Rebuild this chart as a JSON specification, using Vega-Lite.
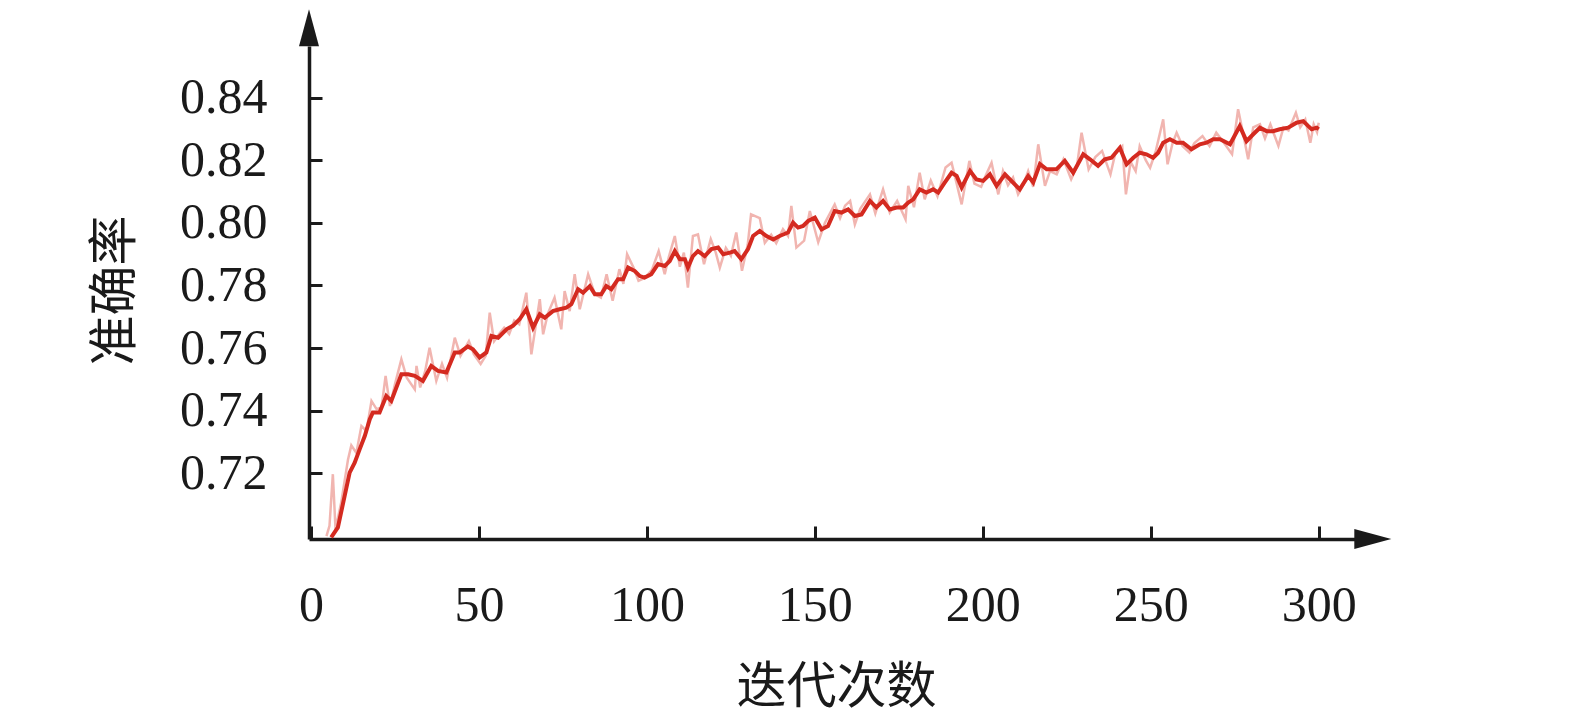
{
  "$schema": "https://vega.github.io/schema/vega-lite/v6.json",
  "width": 1046,
  "height": 493,
  "autosize": {"type": "none"},
  "padding": {"left": 309, "top": 46, "right": 220, "bottom": 175},
  "background": "white",
  "config": {
    "view": {"stroke": null},
    "axis": {
      "grid": false,
      "domainColor": "#1a1a1a",
      "domainWidth": 3.5,
      "tickColor": "#1a1a1a",
      "tickWidth": 3,
      "labelFont": "Liberation Serif",
      "labelFontSize": 50,
      "labelColor": "#1a1a1a",
      "labelFlush": false,
      "labelOverlap": false,
      "titleFont": "Noto Sans CJK SC",
      "titleFontSize": 50,
      "titleFontWeight": "normal",
      "titleColor": "#1a1a1a"
    }
  },
  "datasets": {
    "raw": [
      {"x": 4.6, "acc": 0.6999}, {"x": 5.5, "acc": 0.7032}, {"x": 6.5, "acc": 0.7197}, {"x": 7.3, "acc": 0.7021},
      {"x": 9, "acc": 0.7107}, {"x": 11, "acc": 0.7243}, {"x": 12, "acc": 0.7289}, {"x": 13.5, "acc": 0.7265},
      {"x": 15, "acc": 0.7351}, {"x": 16.5, "acc": 0.7335}, {"x": 18, "acc": 0.7431}, {"x": 19.5, "acc": 0.7405},
      {"x": 21, "acc": 0.741}, {"x": 22.2, "acc": 0.7511}, {"x": 23.5, "acc": 0.7415}, {"x": 25, "acc": 0.7485},
      {"x": 26.9, "acc": 0.7564}, {"x": 28.5, "acc": 0.7505}, {"x": 30.9, "acc": 0.7468}, {"x": 31.4, "acc": 0.7543},
      {"x": 32.5, "acc": 0.7474}, {"x": 34, "acc": 0.7527}, {"x": 35.3, "acc": 0.7601}, {"x": 37.3, "acc": 0.7495},
      {"x": 39, "acc": 0.755}, {"x": 40.5, "acc": 0.7505}, {"x": 42.8, "acc": 0.7633}, {"x": 44.5, "acc": 0.7575},
      {"x": 47, "acc": 0.7622}, {"x": 48.5, "acc": 0.758}, {"x": 50.5, "acc": 0.7549}, {"x": 52, "acc": 0.7575},
      {"x": 53.2, "acc": 0.7713}, {"x": 54.5, "acc": 0.7622}, {"x": 56, "acc": 0.7645}, {"x": 57.5, "acc": 0.7665},
      {"x": 59, "acc": 0.7645}, {"x": 60.5, "acc": 0.7688}, {"x": 62, "acc": 0.7676}, {"x": 64.1, "acc": 0.7777},
      {"x": 65.6, "acc": 0.758}, {"x": 68.1, "acc": 0.7756}, {"x": 69.1, "acc": 0.7644}, {"x": 70.5, "acc": 0.771},
      {"x": 72.5, "acc": 0.7761}, {"x": 74.5, "acc": 0.766}, {"x": 75.5, "acc": 0.7782}, {"x": 77, "acc": 0.7718},
      {"x": 78.5, "acc": 0.7836}, {"x": 80, "acc": 0.7724}, {"x": 82.5, "acc": 0.7836}, {"x": 84.5, "acc": 0.7772},
      {"x": 86.3, "acc": 0.7761}, {"x": 88, "acc": 0.7836}, {"x": 89.8, "acc": 0.7751}, {"x": 91.8, "acc": 0.7852},
      {"x": 93, "acc": 0.7805}, {"x": 94.1, "acc": 0.79}, {"x": 96, "acc": 0.7857}, {"x": 97.5, "acc": 0.7815},
      {"x": 99.5, "acc": 0.7825}, {"x": 101.5, "acc": 0.785}, {"x": 103.5, "acc": 0.791}, {"x": 105.3, "acc": 0.7836},
      {"x": 106.5, "acc": 0.789}, {"x": 108.3, "acc": 0.7958}, {"x": 109.8, "acc": 0.786}, {"x": 111, "acc": 0.7905},
      {"x": 112.2, "acc": 0.7793}, {"x": 113.7, "acc": 0.7958}, {"x": 115.2, "acc": 0.7963}, {"x": 117, "acc": 0.7868},
      {"x": 119, "acc": 0.7948}, {"x": 120.5, "acc": 0.7905}, {"x": 121.7, "acc": 0.7857}, {"x": 123.5, "acc": 0.792},
      {"x": 125, "acc": 0.7895}, {"x": 126.6, "acc": 0.7969}, {"x": 128.3, "acc": 0.7847}, {"x": 130, "acc": 0.793},
      {"x": 131, "acc": 0.8027}, {"x": 133.6, "acc": 0.8015}, {"x": 135.1, "acc": 0.7936}, {"x": 137, "acc": 0.7962},
      {"x": 138.5, "acc": 0.7935}, {"x": 140.5, "acc": 0.798}, {"x": 142, "acc": 0.7958}, {"x": 143, "acc": 0.8054},
      {"x": 144.5, "acc": 0.7921}, {"x": 146.8, "acc": 0.7943}, {"x": 148.5, "acc": 0.8038}, {"x": 151, "acc": 0.7938},
      {"x": 153, "acc": 0.8}, {"x": 155.9, "acc": 0.8059}, {"x": 157.5, "acc": 0.8015}, {"x": 159, "acc": 0.8055},
      {"x": 160.5, "acc": 0.807}, {"x": 161.9, "acc": 0.7995}, {"x": 163.5, "acc": 0.8045}, {"x": 166.4, "acc": 0.8091},
      {"x": 168, "acc": 0.803}, {"x": 170.3, "acc": 0.8107}, {"x": 172.3, "acc": 0.8033}, {"x": 174.5, "acc": 0.807},
      {"x": 177, "acc": 0.8011}, {"x": 177.8, "acc": 0.8118}, {"x": 179.5, "acc": 0.805}, {"x": 181.2, "acc": 0.816},
      {"x": 182.7, "acc": 0.8075}, {"x": 184.5, "acc": 0.8135}, {"x": 186.5, "acc": 0.8085}, {"x": 188.9, "acc": 0.8177},
      {"x": 190.7, "acc": 0.8192}, {"x": 192, "acc": 0.8135}, {"x": 193.7, "acc": 0.8059}, {"x": 196, "acc": 0.8198},
      {"x": 197.5, "acc": 0.8125}, {"x": 199.5, "acc": 0.8115}, {"x": 200.8, "acc": 0.815}, {"x": 202.6, "acc": 0.8192},
      {"x": 204.6, "acc": 0.8091}, {"x": 206, "acc": 0.8165}, {"x": 207.5, "acc": 0.812}, {"x": 209, "acc": 0.8145},
      {"x": 210.5, "acc": 0.8091}, {"x": 212, "acc": 0.812}, {"x": 213.5, "acc": 0.8165}, {"x": 215, "acc": 0.8115},
      {"x": 216.5, "acc": 0.8251}, {"x": 218.5, "acc": 0.8118}, {"x": 220, "acc": 0.8165}, {"x": 222, "acc": 0.8155},
      {"x": 224, "acc": 0.8203}, {"x": 226.3, "acc": 0.8139}, {"x": 228, "acc": 0.818}, {"x": 229.4, "acc": 0.8288},
      {"x": 231.5, "acc": 0.8171}, {"x": 233.5, "acc": 0.821}, {"x": 235.5, "acc": 0.823}, {"x": 238, "acc": 0.8155},
      {"x": 239.5, "acc": 0.8225}, {"x": 241.5, "acc": 0.8245}, {"x": 242.6, "acc": 0.8091}, {"x": 244, "acc": 0.8195},
      {"x": 245.5, "acc": 0.8165}, {"x": 246.7, "acc": 0.8245}, {"x": 248.5, "acc": 0.82}, {"x": 249.8, "acc": 0.8176},
      {"x": 251.5, "acc": 0.823}, {"x": 253.7, "acc": 0.8331}, {"x": 255, "acc": 0.8187}, {"x": 256.5, "acc": 0.8255},
      {"x": 257.7, "acc": 0.8288}, {"x": 259.5, "acc": 0.8245}, {"x": 261.5, "acc": 0.8225}, {"x": 263, "acc": 0.8255},
      {"x": 265.4, "acc": 0.8277}, {"x": 267.5, "acc": 0.8245}, {"x": 269.5, "acc": 0.8288}, {"x": 271.5, "acc": 0.826},
      {"x": 274.2, "acc": 0.8219}, {"x": 276, "acc": 0.8363}, {"x": 277.5, "acc": 0.8285}, {"x": 279, "acc": 0.8203},
      {"x": 280.5, "acc": 0.8305}, {"x": 282.5, "acc": 0.8315}, {"x": 284, "acc": 0.827}, {"x": 285.6, "acc": 0.8315},
      {"x": 288, "acc": 0.8246}, {"x": 289.5, "acc": 0.8305}, {"x": 291, "acc": 0.8295}, {"x": 293.2, "acc": 0.8352},
      {"x": 294.5, "acc": 0.8305}, {"x": 296, "acc": 0.833}, {"x": 297.5, "acc": 0.8256}, {"x": 298.5, "acc": 0.8315},
      {"x": 299.5, "acc": 0.829}, {"x": 300, "acc": 0.832}
    ],
    "smooth": [
      {"x": 6, "acc": 0.6995}, {"x": 8, "acc": 0.7027}, {"x": 10, "acc": 0.7127}, {"x": 11.5, "acc": 0.7202},
      {"x": 13, "acc": 0.7234}, {"x": 14.5, "acc": 0.7277}, {"x": 16, "acc": 0.7319}, {"x": 17.5, "acc": 0.7373},
      {"x": 18.4, "acc": 0.7394}, {"x": 20.4, "acc": 0.7394}, {"x": 22.4, "acc": 0.7447}, {"x": 23.9, "acc": 0.7431},
      {"x": 26.9, "acc": 0.7516}, {"x": 28.9, "acc": 0.7516}, {"x": 30.9, "acc": 0.7511}, {"x": 33.3, "acc": 0.7495},
      {"x": 35.8, "acc": 0.7543}, {"x": 37.8, "acc": 0.7527}, {"x": 40.3, "acc": 0.7522}, {"x": 42.8, "acc": 0.7586},
      {"x": 44.3, "acc": 0.7586}, {"x": 46.7, "acc": 0.7605}, {"x": 48.2, "acc": 0.7596}, {"x": 50.2, "acc": 0.757},
      {"x": 52.2, "acc": 0.7586}, {"x": 53.7, "acc": 0.7639}, {"x": 55.7, "acc": 0.7633}, {"x": 58.2, "acc": 0.766},
      {"x": 60.1, "acc": 0.7671}, {"x": 62.1, "acc": 0.7692}, {"x": 64.1, "acc": 0.7724}, {"x": 66.1, "acc": 0.7665},
      {"x": 68.1, "acc": 0.7708}, {"x": 69.6, "acc": 0.7697}, {"x": 72, "acc": 0.7718}, {"x": 74, "acc": 0.7724},
      {"x": 76, "acc": 0.7729}, {"x": 77.5, "acc": 0.774}, {"x": 79.5, "acc": 0.7788}, {"x": 81, "acc": 0.7777},
      {"x": 83, "acc": 0.7798}, {"x": 84.5, "acc": 0.7772}, {"x": 86.4, "acc": 0.7772}, {"x": 87.9, "acc": 0.7798},
      {"x": 89.4, "acc": 0.7788}, {"x": 91.4, "acc": 0.782}, {"x": 92.9, "acc": 0.782}, {"x": 94.4, "acc": 0.7857},
      {"x": 96.4, "acc": 0.7846}, {"x": 97.9, "acc": 0.783}, {"x": 99.3, "acc": 0.7825}, {"x": 101.3, "acc": 0.7836},
      {"x": 103.3, "acc": 0.7868}, {"x": 105.3, "acc": 0.7862}, {"x": 106.8, "acc": 0.7878}, {"x": 108.3, "acc": 0.791},
      {"x": 109.8, "acc": 0.7884}, {"x": 111.3, "acc": 0.7884}, {"x": 112.2, "acc": 0.7857}, {"x": 113.7, "acc": 0.7894},
      {"x": 115.2, "acc": 0.791}, {"x": 117.2, "acc": 0.7894}, {"x": 119.2, "acc": 0.7916}, {"x": 121.2, "acc": 0.7921},
      {"x": 122.7, "acc": 0.79}, {"x": 124.7, "acc": 0.7905}, {"x": 126.1, "acc": 0.791}, {"x": 128.1, "acc": 0.7884},
      {"x": 130.1, "acc": 0.7916}, {"x": 131.6, "acc": 0.7958}, {"x": 133.6, "acc": 0.7974}, {"x": 135.6, "acc": 0.7958},
      {"x": 137.6, "acc": 0.7947}, {"x": 139.5, "acc": 0.7958}, {"x": 142, "acc": 0.7969}, {"x": 143.5, "acc": 0.8001},
      {"x": 145, "acc": 0.7985}, {"x": 146.5, "acc": 0.799}, {"x": 148, "acc": 0.8006}, {"x": 150, "acc": 0.8017},
      {"x": 152, "acc": 0.7979}, {"x": 153.9, "acc": 0.799}, {"x": 155.9, "acc": 0.8038}, {"x": 157.9, "acc": 0.8033},
      {"x": 159.9, "acc": 0.8043}, {"x": 161.9, "acc": 0.8022}, {"x": 163.9, "acc": 0.8027}, {"x": 166.4, "acc": 0.807},
      {"x": 168.3, "acc": 0.8049}, {"x": 170.3, "acc": 0.807}, {"x": 172.3, "acc": 0.8043}, {"x": 174.3, "acc": 0.8049},
      {"x": 176.3, "acc": 0.8049}, {"x": 177.8, "acc": 0.8065}, {"x": 179.3, "acc": 0.8075}, {"x": 181.2, "acc": 0.8107},
      {"x": 183.2, "acc": 0.8097}, {"x": 185.2, "acc": 0.8107}, {"x": 186.7, "acc": 0.8097}, {"x": 188.7, "acc": 0.8129},
      {"x": 190.7, "acc": 0.816}, {"x": 192.2, "acc": 0.815}, {"x": 193.7, "acc": 0.8113}, {"x": 196.2, "acc": 0.8166},
      {"x": 198.1, "acc": 0.8139}, {"x": 200.1, "acc": 0.8134}, {"x": 202.1, "acc": 0.8155}, {"x": 204.1, "acc": 0.8118},
      {"x": 206.6, "acc": 0.8155}, {"x": 208.5, "acc": 0.8134}, {"x": 211, "acc": 0.8107}, {"x": 213.5, "acc": 0.815},
      {"x": 215, "acc": 0.8129}, {"x": 217, "acc": 0.8188}, {"x": 219, "acc": 0.8171}, {"x": 221.9, "acc": 0.8171},
      {"x": 224.4, "acc": 0.8198}, {"x": 226.9, "acc": 0.816}, {"x": 229.9, "acc": 0.8219}, {"x": 231.9, "acc": 0.8203},
      {"x": 234.3, "acc": 0.8182}, {"x": 236.3, "acc": 0.8203}, {"x": 238.3, "acc": 0.8208}, {"x": 240.8, "acc": 0.824},
      {"x": 242.8, "acc": 0.8187}, {"x": 244.8, "acc": 0.8208}, {"x": 246.7, "acc": 0.8224}, {"x": 248.7, "acc": 0.8219},
      {"x": 250.7, "acc": 0.8208}, {"x": 252.2, "acc": 0.8224}, {"x": 253.7, "acc": 0.8256}, {"x": 255.7, "acc": 0.8267},
      {"x": 257.7, "acc": 0.8256}, {"x": 259.6, "acc": 0.8256}, {"x": 262.1, "acc": 0.8235}, {"x": 264.6, "acc": 0.8251},
      {"x": 266.6, "acc": 0.8256}, {"x": 268.6, "acc": 0.8267}, {"x": 270.6, "acc": 0.8267}, {"x": 273.6, "acc": 0.8251},
      {"x": 276.5, "acc": 0.8309}, {"x": 278.5, "acc": 0.8261}, {"x": 280.5, "acc": 0.8283}, {"x": 282.5, "acc": 0.8304},
      {"x": 284.5, "acc": 0.8293}, {"x": 286.4, "acc": 0.8293}, {"x": 288.4, "acc": 0.8299}, {"x": 290.9, "acc": 0.8304},
      {"x": 293.4, "acc": 0.832}, {"x": 295.4, "acc": 0.8325}, {"x": 296.9, "acc": 0.8309}, {"x": 297.9, "acc": 0.8299},
      {"x": 299.4, "acc": 0.8304}, {"x": 300, "acc": 0.8299}
    ],
    "arrows": [
      {"x": -0.6, "acc": 0.8623, "dir": "up"},
      {"x": 316.1, "acc": 0.699, "dir": "right"}
    ]
  },
  "encoding": {
    "x": {
      "field": "x",
      "type": "quantitative",
      "scale": {"domain": [-0.6, 310.8], "nice": false, "zero": false},
      "axis": {
        "values": [0, 50, 100, 150, 200, 250, 300],
        "tickSize": -13,
        "labelPadding": 54,
        "title": "迭代次数",
        "titleX": 527,
        "titleY": 163,
        "titleAlign": "center",
        "titleBaseline": "alphabetic"
      }
    },
    "y": {
      "field": "acc",
      "type": "quantitative",
      "scale": {"domain": [0.699, 0.8565], "nice": false, "zero": false},
      "axis": {
        "values": [0.72, 0.74, 0.76, 0.78, 0.8, 0.82, 0.84],
        "format": ".2f",
        "tickSize": -13,
        "labelPadding": 55,
        "title": "准确率",
        "titleAngle": -90,
        "titleX": -179,
        "titleY": 244,
        "titleAlign": "center",
        "titleBaseline": "alphabetic"
      }
    }
  },
  "layer": [
    {
      "data": {"name": "raw"},
      "mark": {"type": "line", "color": "#eea39c", "strokeWidth": 2.5, "opacity": 0.8, "clip": true}
    },
    {
      "data": {"name": "smooth"},
      "mark": {"type": "line", "color": "#d42a20", "strokeWidth": 4, "clip": true}
    },
    {
      "data": {"name": "arrows"},
      "mark": {"type": "point", "filled": true, "size": 1369, "opacity": 1, "color": "#1a1a1a"},
      "encoding": {
        "shape": {
          "field": "dir",
          "type": "nominal",
          "scale": {"domain": ["up", "right"], "range": ["M0,-1L0.54,1L-0.54,1Z", "M1,0L-1,-0.54L-1,0.54Z"]},
          "legend": null
        }
      }
    }
  ]
}
